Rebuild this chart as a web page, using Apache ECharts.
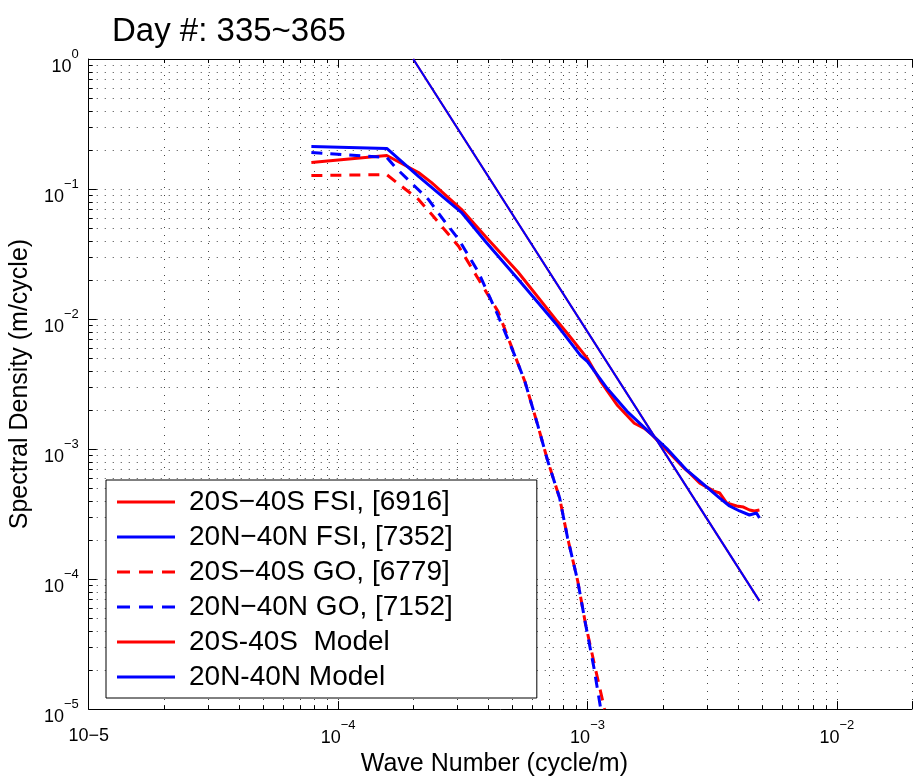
<!DOCTYPE html>
<html>
<head>
<meta charset="utf-8">
<title>Day #: 335~365</title>
<script src="https://cdn.jsdelivr.net/npm/echarts@6.0.0/dist/echarts.min.js"></script>
<style>
  html, body { margin: 0; padding: 0; background: #fff; }
  #chart { width: 915px; height: 782px; }
</style>
</head>
<body>
<div id="chart"></div>
<script>
// [wave number (cycle/m), spectral density (m/cycle)]
var fsiSouth = [
  [7.81e-5, 0.160], [1.567e-4, 0.181], [2.10e-4, 0.134], [2.37e-4, 0.112],
  [3.12e-4, 0.0698], [3.89e-4, 0.0434], [5.26e-4, 0.0230], [7.59e-4, 0.00952],
  [8.32e-4, 0.0077], [1.0e-3, 0.00496], [1.13e-3, 0.0033], [1.32e-3, 0.00216],
  [1.54e-3, 0.00158], [1.69e-3, 0.00144], [1.82e-3, 0.00128], [2.08e-3, 0.00098],
  [2.44e-3, 0.000713], [2.57e-3, 0.000653], [2.82e-3, 0.000547], [3.21e-3, 0.000475],
  [3.39e-3, 0.000459], [3.61e-3, 0.000385], [3.96e-3, 0.000365], [4.22e-3, 0.000358],
  [4.46e-3, 0.00034], [4.67e-3, 0.000334], [4.89e-3, 0.00034]
];
var fsiNorth = [
  [7.81e-5, 0.212], [1.567e-4, 0.205], [2.10e-4, 0.125], [3.12e-4, 0.0662],
  [3.89e-4, 0.0397], [5.26e-4, 0.0203], [7.59e-4, 0.00887], [9.38e-4, 0.00523],
  [1.0e-3, 0.0047], [1.2e-3, 0.00292], [1.44e-3, 0.00195], [1.82e-3, 0.00128],
  [2.08e-3, 0.00101], [2.50e-3, 0.000688], [2.82e-3, 0.000567], [3.21e-3, 0.000459],
  [3.39e-3, 0.00042], [3.71e-3, 0.000365], [4.07e-3, 0.000334], [4.46e-3, 0.000311],
  [4.76e-3, 0.000322], [4.89e-3, 0.000295]
];
var goSouth = [
  [7.81e-5, 0.127], [1.567e-4, 0.129], [1.72e-4, 0.112], [2.10e-4, 0.0832],
  [2.37e-4, 0.0639], [3.04e-4, 0.0363], [3.65e-4, 0.0203], [4.38e-4, 0.0114],
  [5.17e-4, 0.00496], [5.61e-4, 0.0033], [6.32e-4, 0.00152], [6.93e-4, 0.000806],
  [7.73e-4, 0.00042], [8.32e-4, 0.000207], [9.13e-4, 9.7e-5], [9.82e-4, 4.5e-5],
  [1.066e-3, 2.2e-5], [1.17e-3, 1.0e-5]
];
var goNorth = [
  [7.81e-5, 0.191], [1.567e-4, 0.175], [1.70e-4, 0.146], [2.30e-4, 0.0832],
  [2.69e-4, 0.0555], [3.04e-4, 0.0411], [3.65e-4, 0.0230], [4.38e-4, 0.0106],
  [5.17e-4, 0.00496], [5.61e-4, 0.0033], [6.32e-4, 0.00152], [6.93e-4, 0.000806],
  [7.73e-4, 0.00042], [8.32e-4, 0.000207], [9.13e-4, 9.7e-5], [9.82e-4, 4.5e-5],
  [1.06e-3, 2.1e-5], [1.13e-3, 1.0e-5]
];
// k^-3 model line, end points
var modelSouth = [[2.0e-4, 1.0], [4.89e-3, 6.8e-5]];
var modelNorth = [[2.0e-4, 1.0], [4.89e-3, 6.8e-5]];

var seriesNames = [
  '20S\u221240S FSI, [6916]',
  '20N\u221240N FSI, [7352]',
  '20S\u221240S GO, [6779]',
  '20N\u221240N GO, [7152]',
  '20S-40S  Model',
  '20N-40N Model'
];

// axis decades and minor grid steps
var xMin = 1e-5, xMax = 0.02;
var yMin = 1e-5, yMax = 1;
var decadesX = [1e-5, 1e-4, 1e-3, 1e-2];
var decadesY = [1e-5, 1e-4, 1e-3, 1e-2, 1e-1];
var minorSteps = [2, 3, 4, 5, 6, 7, 8, 9];

var xMinor = [];
decadesX.forEach(function (d) {
  minorSteps.forEach(function (m) {
    if (m * d < xMax * 0.99) xMinor.push([m * d, 1e-3]);
  });
});
var yMinor = [];
decadesY.forEach(function (d) {
  minorSteps.forEach(function (m) { yMinor.push([1e-3, m * d]); });
});

var FONT = '"Liberation Sans", Arial, sans-serif';
var RED = '#ff0000', BLUE = '#0000ff';

// legend samples: plain bar or three dashes
var ICON_SOLID = 'path://M0,0h58v3h-58z';
var ICON_DASH = 'path://M0,0h13v3h-13zM22,0h14v3h-14zM45,0h13v3h-13z';

function expLabel(v, isX) {
  var e = Math.round(Math.log10(v));
  if (Math.abs(Math.log10(v) - e) > 1e-6) return '';
  if (isX && e === -5) return '{n|10\u22125}';
  var s = e < 0 ? '\u2212' + (-e) : '' + e;
  return '{b|10}{s|' + s + '}';
}

var labelRich = {
  b: { fontSize: 18, fontFamily: FONT, color: '#000', padding: [16, 0, 0, 0] },
  s: { fontSize: 13, fontFamily: FONT, color: '#000', padding: [0, 0, 10, 0] },
  n: { fontSize: 18, fontFamily: FONT, color: '#000', padding: [14, 0, 0, 0] }
};

var dotted = { stroke: '#444', lineWidth: 1, lineDash: [1, 7] };
var tickStyle = { stroke: '#000', lineWidth: 1 };

function renderMinor(isX) {
  return function (params, api) {
    var cs = params.coordSys;
    var p = api.coord([api.value(0), api.value(1)]);
    var kids = [];
    if (isX) {
      var x = Math.round(p[0]) + 0.5;
      var b = cs.y + cs.height;
      kids.push({ type: 'line', shape: { x1: x, y1: cs.y, x2: x, y2: b }, style: dotted });
      kids.push({ type: 'line', shape: { x1: x, y1: b, x2: x, y2: b - 4 }, style: tickStyle });
      kids.push({ type: 'line', shape: { x1: x, y1: cs.y, x2: x, y2: cs.y + 4 }, style: tickStyle });
    } else {
      var y = Math.round(p[1]) + 0.5;
      kids.push({ type: 'line', shape: { x1: cs.x, y1: y, x2: cs.x + cs.width, y2: y }, style: dotted });
      kids.push({ type: 'line', shape: { x1: cs.x, y1: y, x2: cs.x + 4, y2: y }, style: tickStyle });
    }
    return { type: 'group', children: kids };
  };
}

function lineSeries(name, data, color, width, dash) {
  return {
    name: name,
    type: 'line',
    data: data,
    symbol: 'none',
    showSymbol: false,
    z: 3,
    lineStyle: { color: color, width: width, type: dash || 'solid' },
    itemStyle: { color: color }
  };
}

var chart = echarts.init(document.getElementById('chart'));

var option = {
  animation: false,
  backgroundColor: '#fff',
  title: {
    text: 'Day #: 335~365',
    left: 107,
    top: 10,
    textStyle: { fontSize: 33, fontWeight: 'normal', color: '#000', fontFamily: FONT }
  },
  grid: { left: 88, top: 59, right: 0, bottom: 70, containLabel: false },
  legend: {
    orient: 'vertical',
    left: 106,
    top: 480,
    data: seriesNames.map(function (n, i) {
      return { name: n, icon: (i === 2 || i === 3) ? ICON_DASH : ICON_SOLID };
    }),
    selectedMode: false,
    backgroundColor: '#fff',
    borderColor: '#000',
    borderWidth: 1,
    borderRadius: 0,
    padding: [8, 84, 7, 11],
    itemWidth: 58,
    itemHeight: 3,
    itemGap: 7,
    textStyle: { fontSize: 28, color: '#000', fontFamily: FONT, padding: [0, 0, 0, 9] }
  },
  xAxis: [{
    type: 'log',
    min: xMin,
    max: xMax,
    name: 'Wave Number (cycle/m)',
    nameLocation: 'middle',
    nameGap: 33,
    nameTextStyle: { fontSize: 25, color: '#000', fontFamily: FONT, padding: [0, 12, 0, 0] },
    axisLine: { show: true, lineStyle: { color: '#000', width: 1 } },
    axisTick: { show: true, inside: true, length: 8, lineStyle: { color: '#000' } },
    axisLabel: {
      margin: 4,
      formatter: function (v) { return expLabel(v, true); },
      rich: labelRich
    },
    splitLine: { show: true, lineStyle: { color: '#444', width: 1, type: [1, 7] } }
  }, {
    type: 'log',
    position: 'top',
    min: xMin,
    max: xMax,
    axisLine: { show: true, lineStyle: { color: '#000', width: 1 } },
    axisTick: { show: true, inside: true, length: 8, lineStyle: { color: '#000' } },
    axisLabel: { show: false },
    splitLine: { show: false }
  }],
  yAxis: {
    type: 'log',
    min: yMin,
    max: yMax,
    name: 'Spectral Density (m/cycle)',
    nameLocation: 'middle',
    nameGap: 48,
    nameTextStyle: { fontSize: 25, color: '#000', fontFamily: FONT },
    axisLine: { show: true, lineStyle: { color: '#000', width: 1 } },
    axisTick: { show: true, inside: true, length: 8, lineStyle: { color: '#000' } },
    axisLabel: {
      margin: 10,
      formatter: function (v) { return expLabel(v, false); },
      rich: labelRich
    },
    splitLine: { show: true, lineStyle: { color: '#444', width: 1, type: [1, 7] } }
  },
  series: [
    {
      type: 'custom', silent: true, z: 1, data: xMinor,
      encode: { x: 0, y: 1 }, renderItem: renderMinor(true)
    },
    {
      type: 'custom', silent: true, z: 1, data: yMinor,
      encode: { x: 0, y: 1 }, renderItem: renderMinor(false)
    },
    lineSeries(seriesNames[0], fsiSouth, RED, 3),
    lineSeries(seriesNames[1], fsiNorth, BLUE, 3),
    lineSeries(seriesNames[2], goSouth, RED, 3, [11, 8]),
    lineSeries(seriesNames[3], goNorth, BLUE, 3, [11, 8]),
    lineSeries(seriesNames[4], modelSouth, RED, 2),
    lineSeries(seriesNames[5], modelNorth, BLUE, 2)
  ]
};

chart.setOption(option);
</script>
</body>
</html>
